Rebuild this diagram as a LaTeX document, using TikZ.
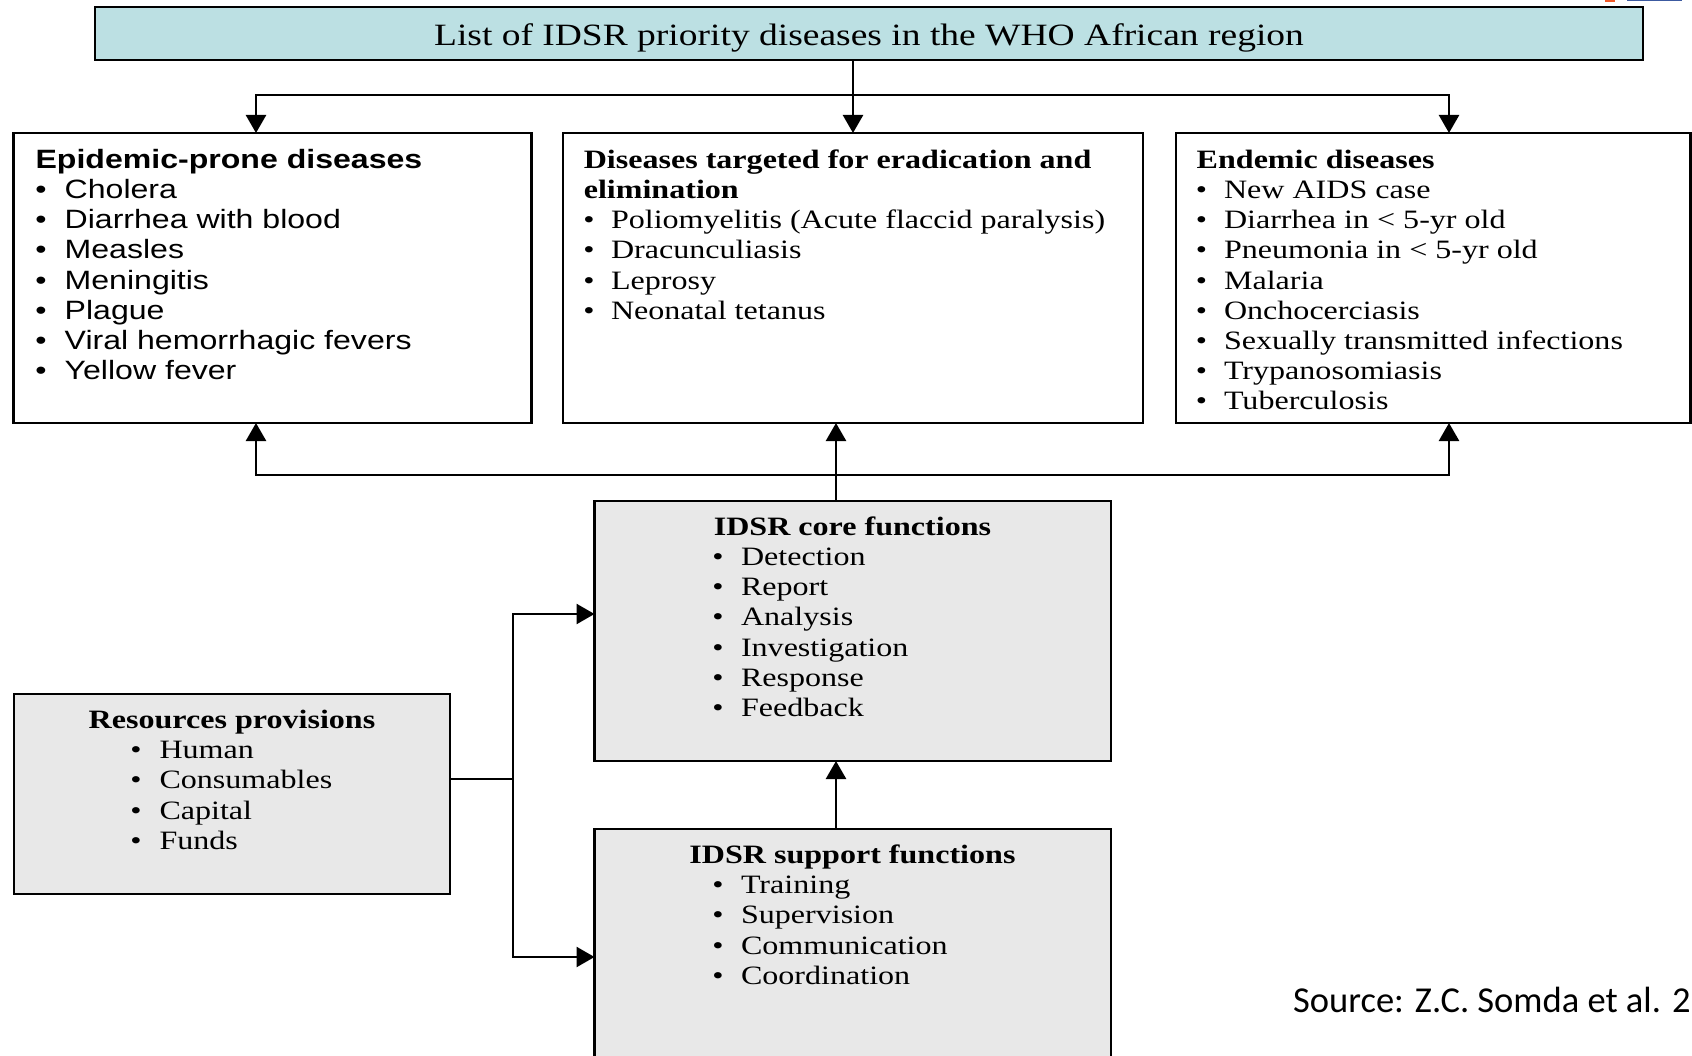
\documentclass[tikz,border=0pt]{standalone}
\usepackage{fontspec}
\setmainfont{Liberation Serif}[FakeStretch=1.21]
\newfontfamily\arialS{Liberation Sans}[FakeStretch=1.21]
\newfontfamily\srcfont{Carlito}
\usetikzlibrary{arrows.meta}
\definecolor{titlefill}{RGB}{188,224,227}
\definecolor{boxgray}{RGB}{232,232,232}
\definecolor{logoorange}{RGB}{240,90,40}
\definecolor{logoblue}{RGB}{60,90,160}
\tikzset{
  box/.style={draw=black, line width=2.5pt, inner sep=0pt, outer sep=0pt, anchor=north west},
  body/.style={font=\fontsize{26.5}{30}\selectfont},
  stxt/.style={body, inner sep=0pt, outer sep=0pt, anchor=base west},
  ctxt/.style={body, inner sep=0pt, outer sep=0pt, anchor=base},
  bul/.style={body, inner sep=0pt, outer sep=0pt, anchor=base},
  conn/.style={line width=2.5pt},
  arr/.style={line width=2.5pt, -{Triangle[length=18pt,width=20pt]}}
}
\begin{document}
\begin{tikzpicture}[x=1pt,y=-1pt]
\useasboundingbox (0,0) rectangle (1692,1056);

% cut-off logo fragments at top right
\fill[logoorange] (1605,0) rectangle (1615,2);
\fill[logoblue] (1627,0) rectangle (1682,1.5);

% boxes
\node[box, fill=titlefill, minimum width=1548pt, minimum height=53pt] (title) at (95,7) {};
\node[box, minimum width=518pt, minimum height=290pt] (epi) at (13.5,133) {};
\node[box, minimum width=580pt, minimum height=290pt] (era) at (563,133) {};
\node[box, minimum width=514.5pt, minimum height=290pt] (end) at (1176,133) {};
\node[box, fill=boxgray, minimum width=516.5pt, minimum height=260pt] (core) at (594.5,501) {};
\node[box, draw=none, fill=boxgray, minimum width=516.5pt, minimum height=227pt] (sup) at (594.5,829) {};
\draw[line width=2.5pt] (sup.south west) |- (sup.north east) -- (sup.south east);
\node[box, fill=boxgray, minimum width=436pt, minimum height=200pt] (res) at (14,694) {};

% title text
\node[inner sep=0pt, anchor=base, font=\fontsize{31}{36}\selectfont] (titletxt) at (869,46) {List of IDSR priority diseases in the WHO African region};

% connector helper coordinates
\coordinate (ea) at (256,95);
\coordinate (na) at (1449,95);
\coordinate (bj) at (836,475);
\coordinate (rj) at (513,779);
\coordinate (ra1) at (513,614);
\coordinate (ra2) at (513,957);

% top connectors
\draw[arr] (title.south -| era.north) -- (era.north);
\draw[arr] (title.south -| era.north) |- (ea) -- (ea |- epi.north);
\draw[arr] (title.south -| era.north) |- (na) -- (na |- end.north);

% bottom connectors
\draw[arr] (core.north -| bj) -- (era.south -| bj);
\draw[arr] (bj) -| (ea |- epi.south);
\draw[arr] (bj) -| (na |- end.south);
\draw[arr] (sup.north -| bj) -- (core.south -| bj);

% resources connectors
\draw[conn] (res.east |- rj) -- (rj);
\draw[arr] (rj) -- (ra1) -- (ra1 -| core.west);
\draw[arr] (rj) -- (ra2) -- (ra2 -| sup.west);

% Epidemic-prone diseases
\node[stxt, font=\arialS\bfseries\fontsize{26.5}{30}\selectfont] (epih) at (35.6,168.4) {Epidemic-prone diseases};
\foreach \t [count=\i] in {Cholera,Diarrhea with blood,Measles,Meningitis,Plague,Viral hemorrhagic fevers,Yellow fever}{
  \node[bul, font=\arialS\fontsize{26.5}{30}\selectfont] (epib\i) at (41,{168.4+30.2*\i}) {•};
  \node[stxt, font=\arialS\fontsize{26.5}{30}\selectfont] (epit\i) at (64.7,{168.4+30.2*\i}) {\t};
}

% Eradication
\node[stxt, font=\bfseries\fontsize{26.5}{30}\selectfont] (erah1) at (583.8,168.4) {Diseases targeted for eradication and};
\node[stxt, font=\bfseries\fontsize{26.5}{30}\selectfont] (erah2) at (583.8,198.6) {elimination};
\foreach \t [count=\i from 2] in {Poliomyelitis (Acute flaccid paralysis),Dracunculiasis,Leprosy,Neonatal tetanus}{
  \node[bul] (erab\i) at (589,{168.4+30.2*\i}) {•};
  \node[stxt] (erat\i) at (611,{168.4+30.2*\i}) {\t};
}

% Endemic
\node[stxt, font=\bfseries\fontsize{26.5}{30}\selectfont] (endh) at (1196.7,168.4) {Endemic diseases};
\foreach \t [count=\i] in {New AIDS case,Diarrhea in < 5-yr old,Pneumonia in < 5-yr old,Malaria,Onchocerciasis,Sexually transmitted infections,Trypanosomiasis,Tuberculosis}{
  \node[bul] (endb\i) at (1201.5,{168.4+30.2*\i}) {•};
  \node[stxt] (endt\i) at (1224,{168.4+30.2*\i}) {\t};
}

% Core functions
\node[ctxt, font=\bfseries\fontsize{26.5}{30}\selectfont] (coreh) at (852.5,535.3) {IDSR core functions};
\foreach \t [count=\i] in {Detection,Report,Analysis,Investigation,Response,Feedback}{
  \node[bul] (coreb\i) at (718,{535.3+30.2*\i}) {•};
  \node[stxt] (coret\i) at (741,{535.3+30.2*\i}) {\t};
}

% Support functions
\node[ctxt, font=\bfseries\fontsize{26.5}{30}\selectfont] (suph) at (852.5,863.4) {IDSR support functions};
\foreach \t [count=\i] in {Training,Supervision,Communication,Coordination}{
  \node[bul] (supb\i) at (718,{863.4+30.2*\i}) {•};
  \node[stxt] (supt\i) at (741,{863.4+30.2*\i}) {\t};
}

% Resources
\node[ctxt, font=\bfseries\fontsize{26.5}{30}\selectfont] (resh) at (232,728.5) {Resources provisions};
\foreach \t [count=\i] in {Human,Consumables,Capital,Funds}{
  \node[bul] (resb\i) at (136,{728.5+30.2*\i}) {•};
  \node[stxt] (rest\i) at (159.5,{728.5+30.2*\i}) {\t};
}

% source
\node[inner sep=0pt, anchor=base west, font=\srcfont\fontsize{36.5}{40}\selectfont] (src) at (1293,1012.7) {Source: Z.C. Somda et al. 2};
\end{tikzpicture}
\end{document}
